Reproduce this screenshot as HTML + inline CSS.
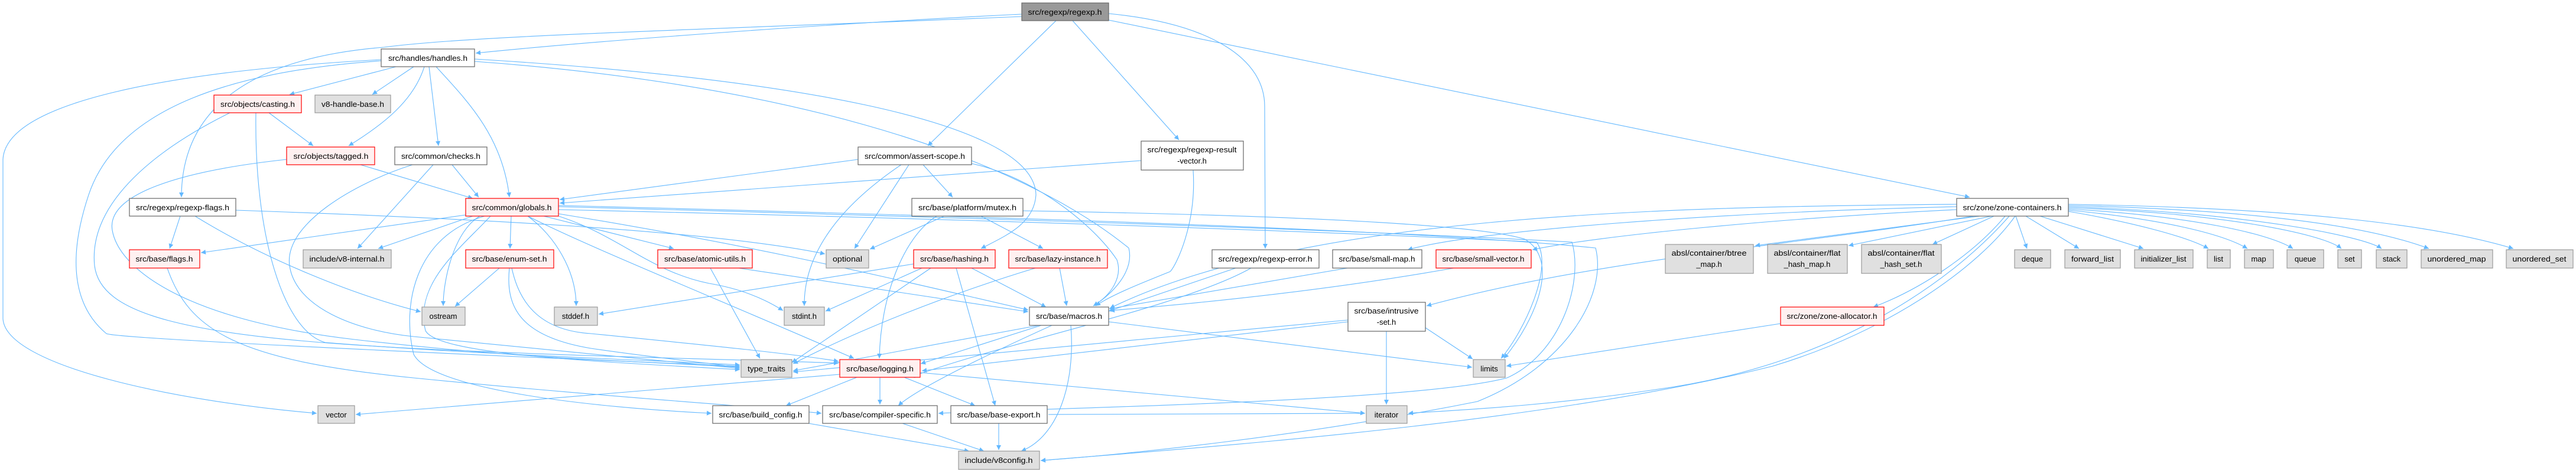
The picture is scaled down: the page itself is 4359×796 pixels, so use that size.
<!DOCTYPE html>
<html><head><meta charset="utf-8"><style>
html,body{margin:0;padding:0;background:#fff;}
svg{display:block;}
.e{fill:none;stroke:#63b8ff;stroke-width:1.1;marker-end:url(#a);}
text{font-family:"Liberation Sans",sans-serif;font-size:13px;fill:#000;text-anchor:middle;}
.w{fill:#fff;stroke:#666;stroke-width:1.2;}
.r{fill:#fff0f0;stroke:#f00;stroke-width:1.2;}
.g{fill:#e0e0e0;stroke:#999;stroke-width:1.2;}
.k{fill:#999;stroke:#666;stroke-width:1.2;}
</style></head><body>
<svg width="4359" height="796" viewBox="0 0 4359 796" xmlns="http://www.w3.org/2000/svg">
<defs><marker id="a" viewBox="0 0 10 10" refX="10" refY="5" markerWidth="10" markerHeight="8" markerUnits="userSpaceOnUse" orient="auto"><path d="M0,0 L10,5 L0,10 z" fill="#63b8ff"/></marker></defs>
<g>
<path class="e" d="M1729,24 C1400,40 1000,70 805,90"/>
<path class="e" d="M1729,28 C1200,50 800,60 650,80 C400,100 307,200 307,334"/>
<path class="e" d="M1787,35 L1570,247"/>
<path class="e" d="M1815,35 L1995,237"/>
<path class="e" d="M1876,23 C2050,40 2140,100 2140,180 L2141,421"/>
<path class="e" d="M1876,34 L3333,334"/>
<path class="e" d="M670,113 L490,160"/>
<path class="e" d="M700,113 L630,160"/>
<path class="e" d="M718,113 C700,170 650,210 590,247"/>
<path class="e" d="M726,113 L742,247"/>
<path class="e" d="M738,113 C790,170 850,230 862,334"/>
<path class="e" d="M645,101 C300,120 10,170 5,270 L5,540 C10,620 300,680 536,700"/>
<path class="e" d="M645,103 C400,120 200,180 150,330 C100,480 150,540 180,565 C200,575 1000,610 1252,620"/>
<path class="e" d="M803,100 C1300,130 1750,200 1753,330 C1750,380 1700,400 1660,421"/>
<path class="e" d="M803,104 C1300,140 1700,250 1910,420 C1920,460 1880,500 1850,518"/>
<path class="e" d="M455,191 L530,247"/>
<path class="e" d="M433,191 C430,400 480,560 550,580 C800,600 1100,610 1252,618"/>
<path class="e" d="M389,191 C250,260 150,350 160,450 C170,530 300,570 700,590 C1000,605 1300,610 1419,615"/>
<path class="e" d="M610,279 L800,336"/>
<path class="e" d="M485,270 C300,290 180,330 190,390 C200,450 300,540 600,575 C900,610 1100,612 1252,622"/>
<path class="e" d="M765,279 L810,334"/>
<path class="e" d="M733,279 L605,421"/>
<path class="e" d="M698,279 C600,310 480,380 490,450 C500,520 600,560 700,570 C900,590 1100,610 1252,624"/>
<path class="e" d="M305,366 L287,421"/>
<path class="e" d="M330,366 C450,440 600,500 712,528"/>
<path class="e" d="M399,356 C800,370 1200,390 1396,430"/>
<path class="e" d="M283,454 C320,560 400,610 700,640 C1000,670 1300,690 1390,700"/>
<path class="e" d="M788,364 L340,428"/>
<path class="e" d="M800,366 L640,421"/>
<path class="e" d="M812,366 C770,390 750,470 750,518"/>
<path class="e" d="M865,366 L863,421"/>
<path class="e" d="M893,366 C940,400 975,460 975,518"/>
<path class="e" d="M920,366 L1140,421"/>
<path class="e" d="M945,366 C1050,400 1100,460 1200,480 C1260,490 1300,510 1325,526"/>
<path class="e" d="M893,366 C1000,420 1200,500 1445,607"/>
<path class="e" d="M945,362 C1300,420 1500,470 1740,525"/>
<path class="e" d="M830,366 C780,420 700,480 720,560 C740,600 1000,612 1252,626"/>
<path class="e" d="M820,366 C700,400 680,520 700,600 C730,660 1000,690 1204,700"/>
<path class="e" d="M945,355 C1600,370 2200,390 2600,410 C2630,450 2580,560 2540,607"/>
<path class="e" d="M945,350 C1700,370 2300,390 2660,410 C2680,480 2640,600 2550,640 C2400,680 1800,690 1588,700"/>
<path class="e" d="M945,348 C1800,370 2400,390 2700,420 C2720,500 2650,620 2500,680 C2200,740 1900,770 1761,780"/>
<path class="e" d="M845,454 L770,519"/>
<path class="e" d="M862,454 C855,520 880,570 1000,590 C1100,605 1200,615 1252,622"/>
<path class="e" d="M866,454 C880,520 920,560 1000,565 C1200,585 1350,600 1419,612"/>
<path class="e" d="M1202,454 L1286,607"/>
<path class="e" d="M1250,454 L1740,528"/>
<path class="e" d="M1452,270 L947,338"/>
<path class="e" d="M1525,279 C1420,350 1360,430 1361,518"/>
<path class="e" d="M1538,279 L1446,421"/>
<path class="e" d="M1562,279 L1612,334"/>
<path class="e" d="M1644,277 C1750,300 1850,380 1890,440 C1900,470 1880,500 1850,518"/>
<path class="e" d="M1931,272 L947,344"/>
<path class="e" d="M2019,288 C2025,380 1990,450 1980,460 C1930,480 1880,500 1854,518"/>
<path class="e" d="M1598,366 L1472,422"/>
<path class="e" d="M1585,366 C1530,400 1490,500 1488,607"/>
<path class="e" d="M1660,366 L1765,421"/>
<path class="e" d="M1731,357 C2200,365 2500,380 2580,405 C2640,440 2600,540 2545,607"/>
<path class="e" d="M1546,447 L1013,532"/>
<path class="e" d="M1560,454 L1397,527"/>
<path class="e" d="M1575,454 L1340,614"/>
<path class="e" d="M1644,454 L1770,520"/>
<path class="e" d="M1618,454 L1684,687"/>
<path class="e" d="M1793,454 L1805,518"/>
<path class="e" d="M1752,454 C1600,500 1450,560 1342,616"/>
<path class="e" d="M2091,454 L1876,527"/>
<path class="e" d="M2117,454 C2000,520 1700,580 1540,639"/>
<path class="e" d="M2280,454 L1877,523"/>
<path class="e" d="M2460,454 C2200,500 1950,520 1878,526"/>
<path class="e" d="M1762,551 L1558,616"/>
<path class="e" d="M1758,551 L1342,628"/>
<path class="e" d="M1812,551 C1820,650 1790,740 1728,764"/>
<path class="e" d="M1780,551 C1650,610 1550,660 1520,687"/>
<path class="e" d="M1876,545 L2491,622"/>
<path class="e" d="M1421,634 L602,702"/>
<path class="e" d="M1450,639 L1330,687"/>
<path class="e" d="M1489,639 L1489,685"/>
<path class="e" d="M1530,639 L1650,687"/>
<path class="e" d="M1557,631 L2310,700"/>
<path class="e" d="M1368,717 L1640,764"/>
<path class="e" d="M1527,717 L1665,764"/>
<path class="e" d="M1690,717 L1690,762"/>
<path class="e" d="M2346,561 L2346,685"/>
<path class="e" d="M2412,555 L2492,608"/>
<path class="e" d="M2281,542 L1342,630"/>
<path class="e" d="M2281,545 L1560,628"/>
<path class="e" d="M2310,700 L1774,702" style="marker-end:none"/>
<path class="e" d="M3311,350 C2900,360 2500,390 2382,423"/>
<path class="e" d="M3311,355 C3000,370 2700,400 2593,423"/>
<path class="e" d="M3340,366 C3000,420 2700,440 2414,518"/>
<path class="e" d="M3311,346 C2800,350 2200,365 1878,522"/>
<path class="e" d="M3350,366 L2970,416"/>
<path class="e" d="M3370,366 L3128,416"/>
<path class="e" d="M3374,366 L3270,414"/>
<path class="e" d="M3393,366 C3340,430 3250,490 3170,520"/>
<path class="e" d="M3400,366 C3300,480 3100,620 2800,660 C2600,690 2450,695 2383,700"/>
<path class="e" d="M3410,366 C3350,450 3200,560 3000,620 C2600,720 2000,760 1761,780"/>
<path class="e" d="M3411,366 L3430,421"/>
<path class="e" d="M3428,366 L3518,421"/>
<path class="e" d="M3452,366 L3627,421"/>
<path class="e" d="M3500,358 C3600,375 3700,400 3737,421"/>
<path class="e" d="M3500,356 C3650,370 3760,395 3803,421"/>
<path class="e" d="M3500,354 C3700,365 3840,395 3880,421"/>
<path class="e" d="M3500,352 C3750,360 3930,395 3962,421"/>
<path class="e" d="M3500,350 C3800,360 4000,400 4030,421"/>
<path class="e" d="M3500,348 C3800,355 4000,380 4110,421"/>
<path class="e" d="M3500,346 C3850,352 4100,375 4253,421"/>
<path class="e" d="M3013,548 L2549,620"/>
</g>
<g>
<rect class="k" x="1729" y="5" width="147" height="30"/><text x="1802" y="25" textLength="125" lengthAdjust="spacingAndGlyphs">src/regexp/regexp.h</text>
<rect class="w" x="645" y="83" width="158" height="30"/><text x="724" y="103" textLength="134" lengthAdjust="spacingAndGlyphs">src/handles/handles.h</text>
<rect class="r" x="362" y="161" width="148" height="30"/><text x="436" y="181" textLength="126" lengthAdjust="spacingAndGlyphs">src/objects/casting.h</text>
<rect class="g" x="533" y="161" width="128" height="30"/><text x="597" y="181" textLength="106" lengthAdjust="spacingAndGlyphs">v8-handle-base.h</text>
<rect class="r" x="485" y="249" width="149" height="30"/><text x="560" y="269" textLength="127" lengthAdjust="spacingAndGlyphs">src/objects/tagged.h</text>
<rect class="w" x="668" y="249" width="156" height="30"/><text x="746" y="269" textLength="134" lengthAdjust="spacingAndGlyphs">src/common/checks.h</text>
<rect class="w" x="1452" y="249" width="192" height="30"/><text x="1548" y="269" textLength="170" lengthAdjust="spacingAndGlyphs">src/common/assert-scope.h</text>
<rect class="w" x="1931" y="239" width="173" height="49"/><text x="2017" y="258" textLength="151" lengthAdjust="spacingAndGlyphs">src/regexp/regexp-result</text><text x="2017" y="277">-vector.h</text>
<rect class="w" x="219" y="336" width="180" height="30"/><text x="309" y="356" textLength="158" lengthAdjust="spacingAndGlyphs">src/regexp/regexp-flags.h</text>
<rect class="r" x="788" y="336" width="157" height="30"/><text x="866" y="356" textLength="135" lengthAdjust="spacingAndGlyphs">src/common/globals.h</text>
<rect class="w" x="1543" y="336" width="188" height="30"/><text x="1637" y="356" textLength="166" lengthAdjust="spacingAndGlyphs">src/base/platform/mutex.h</text>
<rect class="w" x="3311" y="336" width="189" height="30"/><text x="3405" y="356" textLength="167" lengthAdjust="spacingAndGlyphs">src/zone/zone-containers.h</text>
<rect class="r" x="219" y="423" width="119" height="31"/><text x="278" y="443" textLength="97" lengthAdjust="spacingAndGlyphs">src/base/flags.h</text>
<rect class="g" x="513" y="423" width="149" height="31"/><text x="587" y="443" textLength="127" lengthAdjust="spacingAndGlyphs">include/v8-internal.h</text>
<rect class="r" x="788" y="423" width="149" height="31"/><text x="862" y="443" textLength="127" lengthAdjust="spacingAndGlyphs">src/base/enum-set.h</text>
<rect class="r" x="1113" y="423" width="160" height="31"/><text x="1193" y="443" textLength="138" lengthAdjust="spacingAndGlyphs">src/base/atomic-utils.h</text>
<rect class="g" x="1398" y="423" width="72" height="31"/><text x="1434" y="443" textLength="50" lengthAdjust="spacingAndGlyphs">optional</text>
<rect class="r" x="1546" y="423" width="138" height="31"/><text x="1615" y="443" textLength="116" lengthAdjust="spacingAndGlyphs">src/base/hashing.h</text>
<rect class="r" x="1707" y="423" width="167" height="31"/><text x="1790" y="443" textLength="145" lengthAdjust="spacingAndGlyphs">src/base/lazy-instance.h</text>
<rect class="w" x="2051" y="423" width="181" height="31"/><text x="2141" y="443" textLength="159" lengthAdjust="spacingAndGlyphs">src/regexp/regexp-error.h</text>
<rect class="w" x="2255" y="423" width="151" height="31"/><text x="2330" y="443" textLength="129" lengthAdjust="spacingAndGlyphs">src/base/small-map.h</text>
<rect class="r" x="2430" y="423" width="161" height="31"/><text x="2510" y="443" textLength="139" lengthAdjust="spacingAndGlyphs">src/base/small-vector.h</text>
<rect class="g" x="2818" y="414" width="149" height="49"/><text x="2892" y="433" textLength="127" lengthAdjust="spacingAndGlyphs">absl/container/btree</text><text x="2892" y="452">_map.h</text>
<rect class="g" x="2991" y="414" width="135" height="49"/><text x="3058" y="433" textLength="113" lengthAdjust="spacingAndGlyphs">absl/container/flat</text><text x="3058" y="452">_hash_map.h</text>
<rect class="g" x="3150" y="414" width="135" height="49"/><text x="3217" y="433" textLength="113" lengthAdjust="spacingAndGlyphs">absl/container/flat</text><text x="3217" y="452">_hash_set.h</text>
<rect class="g" x="3409" y="423" width="61" height="31"/><text x="3439" y="443">deque</text>
<rect class="g" x="3494" y="423" width="94" height="31"/><text x="3541" y="443" textLength="72" lengthAdjust="spacingAndGlyphs">forward_list</text>
<rect class="g" x="3612" y="423" width="99" height="31"/><text x="3661" y="443" textLength="77" lengthAdjust="spacingAndGlyphs">initializer_list</text>
<rect class="g" x="3735" y="423" width="39" height="31"/><text x="3754" y="443">list</text>
<rect class="g" x="3798" y="423" width="49" height="31"/><text x="3822" y="443">map</text>
<rect class="g" x="3870" y="423" width="62" height="31"/><text x="3901" y="443">queue</text>
<rect class="g" x="3956" y="423" width="40" height="31"/><text x="3976" y="443">set</text>
<rect class="g" x="4021" y="423" width="52" height="31"/><text x="4047" y="443">stack</text>
<rect class="g" x="4097" y="423" width="121" height="31"/><text x="4157" y="443" textLength="99" lengthAdjust="spacingAndGlyphs">unordered_map</text>
<rect class="g" x="4241" y="423" width="113" height="31"/><text x="4297" y="443" textLength="91" lengthAdjust="spacingAndGlyphs">unordered_set</text>
<rect class="g" x="714" y="520" width="73" height="31"/><text x="750" y="540">ostream</text>
<rect class="g" x="938" y="520" width="73" height="31"/><text x="974" y="540">stddef.h</text>
<rect class="g" x="1327" y="520" width="68" height="31"/><text x="1361" y="540">stdint.h</text>
<rect class="w" x="1742" y="520" width="134" height="31"/><text x="1809" y="540" textLength="112" lengthAdjust="spacingAndGlyphs">src/base/macros.h</text>
<rect class="w" x="2281" y="512" width="131" height="49"/><text x="2346" y="531" textLength="109" lengthAdjust="spacingAndGlyphs">src/base/intrusive</text><text x="2346" y="550">-set.h</text>
<rect class="r" x="3013" y="520" width="175" height="31"/><text x="3100" y="540" textLength="153" lengthAdjust="spacingAndGlyphs">src/zone/zone-allocator.h</text>
<rect class="g" x="1254" y="609" width="86" height="30"/><text x="1297" y="629" textLength="64" lengthAdjust="spacingAndGlyphs">type_traits</text>
<rect class="r" x="1421" y="609" width="136" height="30"/><text x="1489" y="629" textLength="114" lengthAdjust="spacingAndGlyphs">src/base/logging.h</text>
<rect class="g" x="2493" y="609" width="54" height="30"/><text x="2520" y="629">limits</text>
<rect class="g" x="538" y="687" width="62" height="30"/><text x="569" y="707">vector</text>
<rect class="w" x="1206" y="687" width="163" height="30"/><text x="1287" y="707" textLength="141" lengthAdjust="spacingAndGlyphs">src/base/build_config.h</text>
<rect class="w" x="1392" y="687" width="194" height="30"/><text x="1489" y="707" textLength="172" lengthAdjust="spacingAndGlyphs">src/base/compiler-specific.h</text>
<rect class="w" x="1609" y="687" width="163" height="30"/><text x="1690" y="707" textLength="141" lengthAdjust="spacingAndGlyphs">src/base/base-export.h</text>
<rect class="g" x="2312" y="687" width="69" height="30"/><text x="2346" y="707">iterator</text>
<rect class="g" x="1622" y="764" width="137" height="31"/><text x="1690" y="784" textLength="115" lengthAdjust="spacingAndGlyphs">include/v8config.h</text>
</g>
</svg>
</body></html>
